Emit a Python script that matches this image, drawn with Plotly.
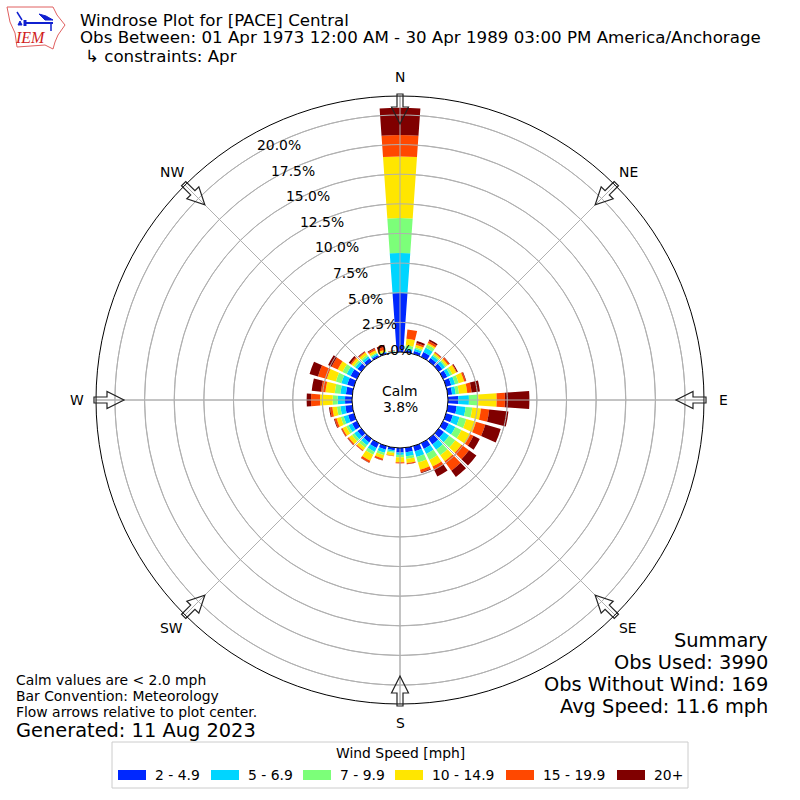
# Windrose for [PACE] Central, April obs
import numpy as np
import plotly.graph_objects as go

directions = list(range(0, 360, 10))

# Top of each speed band along the bar, percent of obs
top_2_5 = [4.98, .17, .25, .45, .34, .37, .39, .45, .37, .87, .76, .59, .54, .54, .59, .54, .45, .39,
           .39, .22, .31, .45, .37, .39, .45, .51, .59, .59, .54, .59, .59, .39, .31, .17, .11, .05]
top_5_7 = [8.36, .34, .45, .87, .59, .65, .68, .79, .68, 1.77, 1.52, 1.18, 1.15, 1.07, 1.15, 1.01, .96, .73,
           .59, .34, .59, .82, .68, .73, .79, .90, 1.01, 1.21, 1.01, 1.10, .96, .62, .51, .31, .17, .08]
top_7_10 = [11.3, .59, .59, 1.15, .73, .79, .87, 1.10, .96, 2.56, 2.08, 1.77, 1.72, 1.72, 1.72, 1.58, 1.44, .96,
            .79, .45, .79, 1.10, .93, .96, 1.01, 1.15, 1.30, 1.63, 1.49, 1.58, 1.35, .79, .68, .42, .23, .10]
top_10_15 = [16.5, 1.15, .79, 1.30, .87, .96, 1.24, 1.58, 1.66, 4.11, 2.82, 2.62, 2.56, 2.37, 2.34, 2.20, 2.08, 1.30,
             1.21, .68, 1.10, 1.66, 1.20, 1.30, 1.35, 1.52, 1.69, 2.70, 2.28, 2.37, 1.80, 1.01, .90, .62, .39, .12]
top_15_20 = [18.3, 1.94, .96, 1.49, .96, 1.10, 1.30, 1.72, 2.03, 4.81, 3.52, 3.44, 2.85, 3.15, 3.32, 2.48, 2.31, 1.38,
             1.30, .73, 1.24, 1.83, 1.28, 1.41, 1.46, 1.69, 1.89, 3.46, 2.65, 3.15, 2.37, 1.13, .99, .79, .62, .15]
top_20 = [20.6, 1.94, 1.13, 1.63, .99, 1.15, 1.38, 1.77, 2.73, 6.87, 5.15, 4.79, 3.44, 3.92, 3.97, 3.13, 2.37, 1.41,
          1.30, .73, 1.27, 1.86, 1.30, 1.44, 1.49, 1.75, 1.97, 3.83, 3.44, 3.89, 2.70, 1.30, 1.04, .85, .79, .17]

band_tops = [top_2_5, top_5_7, top_7_10, top_10_15, top_15_20, top_20]
speed_labels = ['2 - 4.9', '5 - 6.9', '7 - 9.9', '10 - 14.9', '15 - 19.9', '20+']
speed_colors = ['#0028ff', '#00d5ff', '#7cff79', '#ffe600', '#ff4800', '#800000']

ring_values = [0, 2.5, 5, 7.5, 10, 12.5, 15, 17.5, 20]
ring_labels = ['0.0%', '2.5%', '5.0%', '7.5%', '10.0%', '12.5%', '15.0%', '17.5%', '20.0%']
compass_angles = [0, 45, 90, 135, 180, 225, 270, 315]
compass_labels = ['N', 'NE', 'E', 'SE', 'S', 'SW', 'W', 'NW']

summary_lines = ['Summary', 'Obs Used: 3990', 'Obs Without Wind: 169', 'Avg Speed: 11.6 mph']
note_lines = ['Calm values are < 2.0 mph', 'Bar Convention: Meteorology', 'Flow arrows relative to plot center.']

FONT = 'DejaVu Sans'
R_MAX = 21.6
W = 800.0


def px(x, y):
    return x / W, 1 - y / W


def poly(points, close=True):
    parts = []
    for i, (x, y) in enumerate(points):
        a, b = px(x, y)
        parts.append('%s%.5f,%.5f' % ('M' if i == 0 else 'L', a, b))
    return ' '.join(parts) + (' Z' if close else '')


def text(x, y, s, size, anchor='left', color='black', family=FONT):
    # annotations carry about 2px of padding
    if anchor == 'left':
        x -= 2
    elif anchor == 'right':
        x += 2
    a, b = px(x, y)
    return dict(x=a, y=b, xref='paper', yref='paper', text=s, showarrow=False, xanchor=anchor, yanchor='middle',
                font=dict(family=family, size=size, color=color), align=anchor)


fig = go.Figure()

# Step 1: the stacked bars
prev = np.zeros(len(directions))
for tops, label, color in zip(band_tops, speed_labels, speed_colors):
    tops = np.array(tops)
    fig.add_trace(go.Barpolar(theta=directions, r=tops - prev, base=prev, width=8, name=label,
                              marker=dict(color=color, line=dict(width=0)), showlegend=False))
    prev = tops

# Step 2: grid goes over the bars in the original, so redraw it as lines
circle = np.arange(0, 361, 2)
for v in ring_values[1:]:
    fig.add_trace(go.Scatterpolar(theta=circle, r=[v] * len(circle), mode='lines', showlegend=False,
                                  line=dict(color='#b0b0b0', width=1), hoverinfo='skip'))
for a in compass_angles:
    fig.add_trace(go.Scatterpolar(theta=[a, a], r=[0, R_MAX], mode='lines', showlegend=False,
                                  line=dict(color='#b0b0b0', width=1), hoverinfo='skip'))

shapes = []
annotations = []

# Step 3: flow arrows round the rim, compass labels just outside
for a, label in zip(compass_angles, compass_labels):
    t = np.radians(a)
    ux, uy = np.sin(t), -np.cos(t)
    vx, vy = np.cos(t), np.sin(t)
    outline = [(306, -3), (293, -3), (293, -8.5), (276, 0), (293, 8.5), (293, 3), (306, 3)]
    pts = [(400 + r * ux + o * vx, 400 + r * uy + o * vy) for r, o in outline]
    shapes.append(dict(type='path', path=poly(pts), xref='paper', yref='paper',
                       line=dict(color='#222222', width=1.2), fillcolor='rgba(255,255,255,0)'))
    annotations.append(text(400 + 323 * ux, 400 + 323 * uy, label, 13.9, 'center'))

# radial labels sit on a slanted line, not on the axis
for v, label in zip(ring_values, ring_labels):
    annotations.append(text(394 - 115 * v / 20, 350 - 205 * v / 20, label, 13.9, 'center'))

# Step 4: IEM logo
iowa = [(7, 7), (53, 7), (57, 15), (65, 25), (58, 35), (55, 42), (53, 49), (45, 45), (17, 47), (15, 33), (10, 22)]
shapes.append(dict(type='path', path=poly(iowa), xref='paper', yref='paper',
                   line=dict(color='#e06060', width=1), fillcolor='white'))
for seg, lw in [([(25, 23), (53, 23)], 2), ([(25, 20), (25, 26)], 3), ([(17, 12), (22, 20)], 1.5),
                ([(51, 23), (51, 31)], 1.5)]:
    shapes.append(dict(type='path', path=poly(seg, close=False), xref='paper', yref='paper',
                       line=dict(color='#1020d0', width=lw)))
shapes.append(dict(type='path', path=poly([(39, 14), (46, 16), (53, 20), (45, 20)]), xref='paper', yref='paper',
                   line=dict(color='#1020d0', width=1), fillcolor='#1020d0'))
shapes.append(dict(type='path', path=poly([(20, 21), (18, 25), (22, 25)]), xref='paper', yref='paper',
                   line=dict(color='#1020d0', width=1), fillcolor='#1020d0'))
annotations.append(text(30, 38, '<i>IEM</i>', 16, 'center', '#d02020', 'Liberation Serif'))

# Step 5: title block
annotations.append(text(80, 21, 'Windrose Plot for [PACE] Central', 16.67))
annotations.append(text(80, 38, 'Obs Between: 01 Apr 1973 12:00 AM - 30 Apr 1989 03:00 PM America/Anchorage', 16.67))
annotations.append(text(85, 56, '↳ constraints: Apr', 16.67))

# Step 6: centre and corner text
annotations.append(text(400, 391, 'Calm', 13.9, 'center'))
annotations.append(text(400, 407, '3.8%', 13.9, 'center'))
for y, line in zip([640, 662, 684, 706], summary_lines):
    annotations.append(text(768, y, line, 19.4, 'right'))
for y, line in zip([680, 696, 712], note_lines):
    annotations.append(text(16, y, line, 13.9))
annotations.append(text(16, 730, 'Generated: 11 Aug 2023', 19.4))

# Step 7: legend, drawn by hand for the wide swatches
x0, y0, x1, y1 = px(112, 742)[0], px(112, 742)[1], px(688, 788)[0], px(688, 788)[1]
shapes.append(dict(type='rect', x0=x0, y0=y0, x1=x1, y1=y1, xref='paper', yref='paper',
                   line=dict(color='#cccccc', width=1), fillcolor='white'))
annotations.append(text(400, 753, 'Wind Speed [mph]', 13.9, 'center'))
swatch_x = [118, 211, 303, 395, 506, 617]
for sx, label, color in zip(swatch_x, speed_labels, speed_colors):
    a0, b0 = px(sx, 770)
    a1, b1 = px(sx + 28, 780)
    shapes.append(dict(type='rect', x0=a0, y0=b0, x1=a1, y1=b1, xref='paper', yref='paper',
                       line=dict(width=0), fillcolor=color))
    annotations.append(text(sx + 37, 775, label, 13.9))

fig.update_layout(
    width=800, height=800, margin=dict(l=0, r=0, t=0, b=0), showlegend=False,
    paper_bgcolor='white', font=dict(family=FONT, size=13.9, color='black'),
    shapes=shapes, annotations=annotations,
    polar=dict(
        domain=dict(x=[0.12, 0.88], y=[0.12, 0.88]), hole=48 / 304, bgcolor='white',
        radialaxis=dict(range=[0, R_MAX], angle=112.5, tickmode='array', tickvals=ring_values,
                        showticklabels=False, showline=False, ticks='', gridcolor='#b0b0b0', gridwidth=1),
        angularaxis=dict(rotation=90, direction='clockwise', tickmode='array', tickvals=compass_angles,
                         showticklabels=False, ticks='', gridcolor='#b0b0b0', linecolor='black', linewidth=1),
    ),
)

# body has a default 8px margin that would push the chart off the 800px window
fig.write_html("out.html", config=dict(displayModeBar=False), post_script="document.body.style.margin='0';")
